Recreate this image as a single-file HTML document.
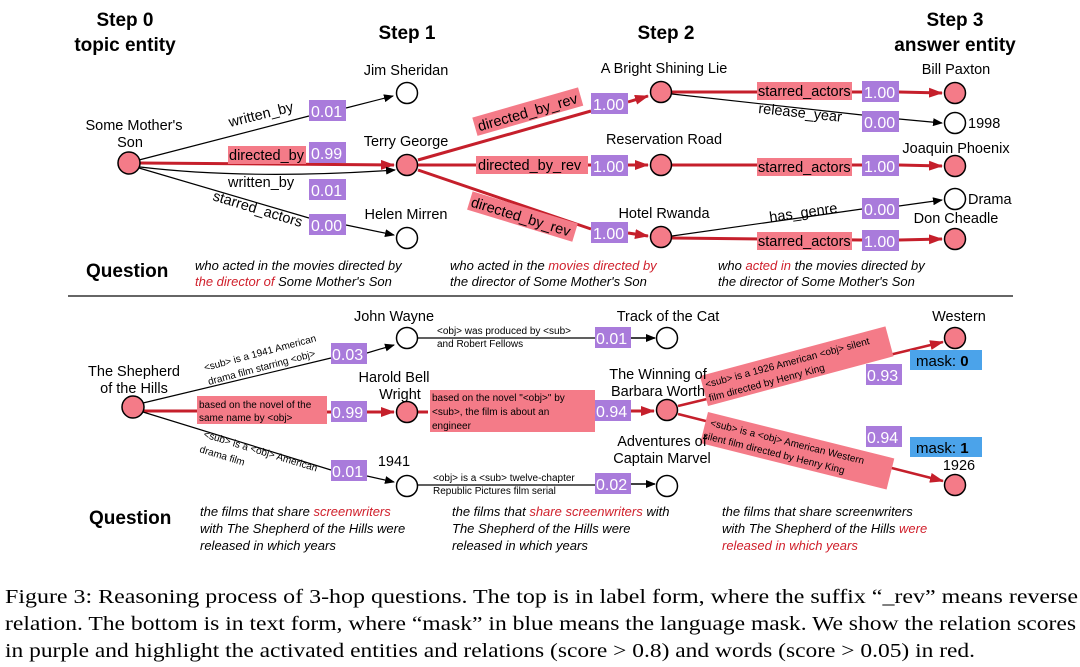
<!DOCTYPE html>
<html><head><meta charset="utf-8"><style>
html,body{margin:0;padding:0;background:#fff;width:1080px;height:667px;overflow:hidden}
svg text{font-family:"Liberation Sans",sans-serif}
.b{font-weight:bold;font-size:19px}
.n{font-size:14.5px}
.s{font-size:10px}
.q{font-size:13px;font-style:italic}
.pu{fill:#a97bdb}
.pk{fill:#f47b88}
.pt{fill:#fff;font-size:16px}
.cap{font-family:"Liberation Serif",serif;font-size:20px}
</style></head><body>
<svg width="1080" height="667" viewBox="0 0 1080 667" xmlns="http://www.w3.org/2000/svg">
<defs>
<marker id="ak" markerWidth="10" markerHeight="8" refX="9" refY="4" orient="auto" markerUnits="userSpaceOnUse"><path d="M0,0 L10,4 L0,8z" fill="#000"/></marker>
<marker id="ar" markerWidth="14" markerHeight="10" refX="13" refY="5" orient="auto" markerUnits="userSpaceOnUse"><path d="M0,0 L14,5 L0,10z" fill="#c51f2b"/></marker>
</defs>

<text class="b" x="125" y="26" text-anchor="middle">Step 0</text>
<text class="b" x="125" y="51" text-anchor="middle">topic entity</text>
<text class="b" x="407" y="39" text-anchor="middle">Step 1</text>
<text class="b" x="666" y="39" text-anchor="middle">Step 2</text>
<text class="b" x="955" y="26" text-anchor="middle">Step 3</text>
<text class="b" x="955" y="51" text-anchor="middle">answer entity</text>

<g fill="none">
<path d="M139,160 L309,116" stroke="#000" stroke-width="1.2"/>
<path d="M346,108 L393,96" stroke="#000" stroke-width="1.2" marker-end="url(#ak)"/>
<path d="M140,163 L394,165" stroke="#c51f2b" stroke-width="3" marker-end="url(#ar)"/>
<path d="M140,167 Q250,180 395,170" stroke="#000" stroke-width="1.2" marker-end="url(#ak)"/>
<path d="M139,168 L309,218" stroke="#000" stroke-width="1.2"/>
<path d="M346,225 L394,235" stroke="#000" stroke-width="1.2" marker-end="url(#ak)"/>
<path d="M418,160 L591,111" stroke="#c51f2b" stroke-width="3"/>
<path d="M628,102 L648,96" stroke="#c51f2b" stroke-width="3" marker-end="url(#ar)"/>
<path d="M418,165 L591,165" stroke="#c51f2b" stroke-width="3"/>
<path d="M628,165 L648,165" stroke="#c51f2b" stroke-width="3" marker-end="url(#ar)"/>
<path d="M418,170 L591,229" stroke="#c51f2b" stroke-width="3"/>
<path d="M628,233 L648,236" stroke="#c51f2b" stroke-width="3" marker-end="url(#ar)"/>
<path d="M672,92 L862,92" stroke="#c51f2b" stroke-width="3"/>
<path d="M899,92 L942,93" stroke="#c51f2b" stroke-width="3" marker-end="url(#ar)"/>
<path d="M672,94 L862,115" stroke="#000" stroke-width="1.2"/>
<path d="M899,119 L942,123" stroke="#000" stroke-width="1.2" marker-end="url(#ak)"/>
<path d="M672,165 L862,165" stroke="#c51f2b" stroke-width="3"/>
<path d="M899,165 L942,166" stroke="#c51f2b" stroke-width="3" marker-end="url(#ar)"/>
<path d="M672,236 L862,209" stroke="#000" stroke-width="1.2"/>
<path d="M899,206 L942,200" stroke="#000" stroke-width="1.2" marker-end="url(#ak)"/>
<path d="M672,238 L862,240" stroke="#c51f2b" stroke-width="3"/>
<path d="M899,240 L942,239" stroke="#c51f2b" stroke-width="3" marker-end="url(#ar)"/>
</g>

<g stroke="#000" stroke-width="1.5">
<circle cx="129" cy="163" r="11" fill="#f47b88"/>
<circle cx="407" cy="93" r="10.5" fill="#fff"/>
<circle cx="407" cy="165" r="10.5" fill="#f47b88"/>
<circle cx="407" cy="238" r="10.5" fill="#fff"/>
<circle cx="661" cy="92" r="10.5" fill="#f47b88"/>
<circle cx="661" cy="165" r="10.5" fill="#f47b88"/>
<circle cx="661" cy="237" r="10.5" fill="#f47b88"/>
<circle cx="955" cy="93" r="10.5" fill="#f47b88"/>
<circle cx="955" cy="123" r="10.5" fill="#fff"/>
<circle cx="955" cy="166" r="10.5" fill="#f47b88"/>
<circle cx="955" cy="199" r="10.5" fill="#fff"/>
<circle cx="955" cy="239" r="10.5" fill="#f47b88"/>
</g>

<g class="n" text-anchor="middle">
<text x="134" y="130">Some Mother's</text>
<text x="130" y="147">Son</text>
<text x="406" y="75">Jim Sheridan</text>
<text x="406" y="146">Terry George</text>
<text x="406" y="219">Helen Mirren</text>
<text x="664" y="73">A Bright Shining Lie</text>
<text x="664" y="144">Reservation Road</text>
<text x="664" y="218">Hotel Rwanda</text>
<text x="956" y="74">Bill Paxton</text>
<text x="956" y="153">Joaquin Phoenix</text>
<text x="956" y="223">Don Cheadle</text>
</g>
<g class="n">
<text x="968" y="128">1998</text>
<text x="968" y="204">Drama</text>
</g>

<text class="n" x="230" y="127" transform="rotate(-14 230 127)">written_by</text>
<rect class="pk" x="228" y="146" width="78" height="18"/>
<text class="n" x="229" y="160">directed_by</text>
<text class="n" x="228" y="187">written_by</text>
<text class="n" x="212" y="200" transform="rotate(17 212 200)">starred_actors</text>

<g transform="rotate(-16 480 130)"><rect class="pk" x="476" y="116" width="110" height="19"/><text class="n" x="479" y="131">directed_by_rev</text></g>
<rect class="pk" x="476" y="156" width="112" height="18"/><text class="n" x="478" y="170">directed_by_rev</text>
<g transform="rotate(17 470 200)"><rect class="pk" x="470" y="191" width="110" height="19"/><text class="n" x="472" y="206">directed_by_rev</text></g>

<rect class="pk" x="757" y="82" width="95" height="18"/><text class="n" x="758" y="96">starred_actors</text>
<text class="n" x="758" y="113" transform="rotate(6 758 113)">release_year</text>
<rect class="pk" x="757" y="158" width="95" height="18"/><text class="n" x="758" y="172">starred_actors</text>
<text class="n" x="770" y="222" transform="rotate(-8 770 222)">has_genre</text>
<rect class="pk" x="757" y="232" width="95" height="18"/><text class="n" x="758" y="246">starred_actors</text>

<g>
<rect class="pu" x="309" y="100" width="37" height="21"/><text class="pt" x="311" y="117">0.01</text>
<rect class="pu" x="309" y="142" width="37" height="21"/><text class="pt" x="311" y="159">0.99</text>
<rect class="pu" x="309" y="179" width="37" height="21"/><text class="pt" x="311" y="196">0.01</text>
<rect class="pu" x="309" y="214" width="37" height="21"/><text class="pt" x="311" y="231">0.00</text>
<rect class="pu" x="591" y="93" width="37" height="21"/><text class="pt" x="593" y="110">1.00</text>
<rect class="pu" x="591" y="155" width="37" height="21"/><text class="pt" x="593" y="172">1.00</text>
<rect class="pu" x="591" y="222" width="37" height="21"/><text class="pt" x="593" y="239">1.00</text>
<rect class="pu" x="862" y="81" width="37" height="21"/><text class="pt" x="864" y="98">1.00</text>
<rect class="pu" x="862" y="111" width="37" height="21"/><text class="pt" x="864" y="128">0.00</text>
<rect class="pu" x="862" y="155" width="37" height="21"/><text class="pt" x="864" y="172">1.00</text>
<rect class="pu" x="862" y="198" width="37" height="21"/><text class="pt" x="864" y="215">0.00</text>
<rect class="pu" x="862" y="230" width="37" height="21"/><text class="pt" x="864" y="247">1.00</text>
</g>

<text class="b" x="86" y="277">Question</text>
<text class="q" x="195" y="270">who acted in the movies directed by</text>
<text class="q" x="195" y="286"><tspan fill="#d0202c">the director of</tspan> Some Mother's Son</text>
<text class="q" x="450" y="270">who acted in the <tspan fill="#d0202c">movies directed by</tspan></text>
<text class="q" x="450" y="286">the director of Some Mother's Son</text>
<text class="q" x="718" y="270">who <tspan fill="#d0202c">acted in</tspan> the movies directed by</text>
<text class="q" x="718" y="286">the director of Some Mother's Son</text>

<line x1="68" y1="296" x2="1013" y2="296" stroke="#333" stroke-width="1.5"/>

<g fill="none">
<path d="M143,403 L331,358" stroke="#000" stroke-width="1.2"/>
<path d="M367,353 L394,345" stroke="#000" stroke-width="1.2" marker-end="url(#ak)"/>
<path d="M143,411 L197,411" stroke="#c51f2b" stroke-width="3"/>
<path d="M327,412 L331,412" stroke="#c51f2b" stroke-width="3"/>
<path d="M367,412 L394,412" stroke="#c51f2b" stroke-width="3" marker-end="url(#ar)"/>
<path d="M143,412 L331,470" stroke="#000" stroke-width="1.2"/>
<path d="M367,476 L394,482" stroke="#000" stroke-width="1.2" marker-end="url(#ak)"/>
<path d="M418,338 L595,338" stroke="#000" stroke-width="1.2"/>
<path d="M631,338 L655,338" stroke="#000" stroke-width="1.5" marker-end="url(#ak)"/>
<path d="M418,412 L428,412" stroke="#c51f2b" stroke-width="3"/>
<path d="M631,411 L654,411" stroke="#c51f2b" stroke-width="3" marker-end="url(#ar)"/>
<path d="M418,485 L595,485" stroke="#000" stroke-width="1.2"/>
<path d="M631,484 L655,484" stroke="#000" stroke-width="1.5" marker-end="url(#ak)"/>
<path d="M678,406 L943,342" stroke="#c51f2b" stroke-width="2.5" marker-end="url(#ar)"/>
<path d="M678,414 L943,481" stroke="#c51f2b" stroke-width="2.5" marker-end="url(#ar)"/>
</g>

<g stroke="#000" stroke-width="1.5">
<circle cx="133" cy="407" r="11" fill="#f47b88"/>
<circle cx="407" cy="338" r="10.5" fill="#fff"/>
<circle cx="407" cy="412" r="10.5" fill="#f47b88"/>
<circle cx="407" cy="486" r="10.5" fill="#fff"/>
<circle cx="667" cy="338" r="10.5" fill="#fff"/>
<circle cx="667" cy="410" r="10.5" fill="#f47b88"/>
<circle cx="667" cy="486" r="10.5" fill="#fff"/>
<circle cx="955" cy="338" r="10.5" fill="#f47b88"/>
<circle cx="955" cy="485" r="10.5" fill="#f47b88"/>
</g>

<g class="s">
<g transform="translate(708,406) rotate(-15)"><rect class="pk" x="0" y="-31" width="192" height="31"/>
<text x="3" y="-18">&lt;sub&gt; is a 1926 American &lt;obj&gt; silent</text>
<text x="3" y="-4">film directed by Henry King</text></g>
<g transform="translate(708,412) rotate(14)"><rect class="pk" x="0" y="0" width="192" height="32"/>
<text x="5" y="13">&lt;sub&gt; is a &lt;obj&gt; American Western</text>
<text x="1" y="27">silent film directed by Henry King</text></g>
</g>

<g class="n" text-anchor="middle">
<text x="134" y="376">The Shepherd</text>
<text x="134" y="393">of the Hills</text>
<text x="394" y="321">John Wayne</text>
<text x="394" y="382">Harold Bell</text>
<text x="400" y="399">Wright</text>
<text x="394" y="466">1941</text>
<text x="668" y="321">Track of the Cat</text>
<text x="658" y="379">The Winning of</text>
<text x="658" y="396">Barbara Worth</text>
<text x="662" y="446">Adventures of</text>
<text x="662" y="463">Captain Marvel</text>
<text x="959" y="321">Western</text>
<text x="959" y="470">1926</text>
</g>

<g class="s">
<text x="205" y="371" transform="rotate(-15 205 371)">&lt;sub&gt; is a 1941 American</text>
<text x="209" y="385" transform="rotate(-15 209 385)">drama film starring &lt;obj&gt;</text>
<rect class="pk" x="197" y="396" width="130" height="28"/>
<text x="199" y="408">based on the novel of the</text>
<text x="199" y="421">same name by &lt;obj&gt;</text>
<text x="203" y="437" transform="rotate(17 203 437)">&lt;sub&gt; is a &lt;obj&gt; American</text>
<text x="199" y="452" transform="rotate(17 199 452)">drama film</text>
<text x="437" y="334">&lt;obj&gt; was produced by &lt;sub&gt;</text>
<text x="437" y="347">and Robert Fellows</text>
<rect class="pk" x="430" y="390" width="165" height="42"/>
<text x="432" y="401">based on the novel "&lt;obj&gt;" by</text>
<text x="432" y="415">&lt;sub&gt;, the film is about an</text>
<text x="432" y="429">engineer</text>
<text x="433" y="481">&lt;obj&gt; is a &lt;sub&gt; twelve-chapter</text>
<text x="433" y="494">Republic Pictures film serial</text>
</g>

<rect class="pu" x="331" y="343" width="36" height="21"/><text class="pt" x="332" y="360">0.03</text>
<rect class="pu" x="331" y="401" width="36" height="21"/><text class="pt" x="332" y="418">0.99</text>
<rect class="pu" x="331" y="460" width="36" height="21"/><text class="pt" x="332" y="477">0.01</text>
<rect class="pu" x="595" y="327" width="36" height="21"/><text class="pt" x="596" y="344">0.01</text>
<rect class="pu" x="595" y="400" width="36" height="21"/><text class="pt" x="596" y="417">0.94</text>
<rect class="pu" x="595" y="473" width="36" height="21"/><text class="pt" x="596" y="490">0.02</text>
<rect class="pu" x="866" y="364" width="36" height="21"/><text class="pt" x="867" y="381">0.93</text>
<rect class="pu" x="866" y="426" width="36" height="21"/><text class="pt" x="867" y="443">0.94</text>
<rect x="910" y="350" width="72" height="20" fill="#4ba3ea"/><text x="916" y="366" font-size="15">mask: <tspan font-weight="bold">0</tspan></text>
<rect x="910" y="437" width="72" height="20" fill="#4ba3ea"/><text x="916" y="453" font-size="15">mask: <tspan font-weight="bold">1</tspan></text>

<text class="b" x="89" y="524">Question</text>
<text class="q" x="200" y="516">the films that share <tspan fill="#d0202c">screenwriters</tspan></text>
<text class="q" x="200" y="533">with The Shepherd of the Hills were</text>
<text class="q" x="200" y="550">released in which years</text>
<text class="q" x="452" y="516">the films that <tspan fill="#d0202c">share screenwriters</tspan> with</text>
<text class="q" x="452" y="533">The Shepherd of the Hills were</text>
<text class="q" x="452" y="550">released in which years</text>
<text class="q" x="722" y="516">the films that share screenwriters</text>
<text class="q" x="722" y="533">with The Shepherd of the Hills <tspan fill="#d0202c">were</tspan></text>
<text class="q" x="722" y="550" fill="#d0202c">released in which years</text>

<text class="cap" x="5" y="603" textLength="1073" lengthAdjust="spacingAndGlyphs">Figure 3: Reasoning process of 3-hop questions. The top is in label form, where the suffix “_rev” means reverse</text>
<text class="cap" x="5" y="630" textLength="1071" lengthAdjust="spacingAndGlyphs">relation. The bottom is in text form, where “mask” in blue means the language mask. We show the relation scores</text>
<text class="cap" x="5" y="657" textLength="970" lengthAdjust="spacingAndGlyphs">in purple and highlight the activated entities and relations (score &gt; 0.8) and words (score &gt; 0.05) in red.</text>
</svg>
</body></html>
